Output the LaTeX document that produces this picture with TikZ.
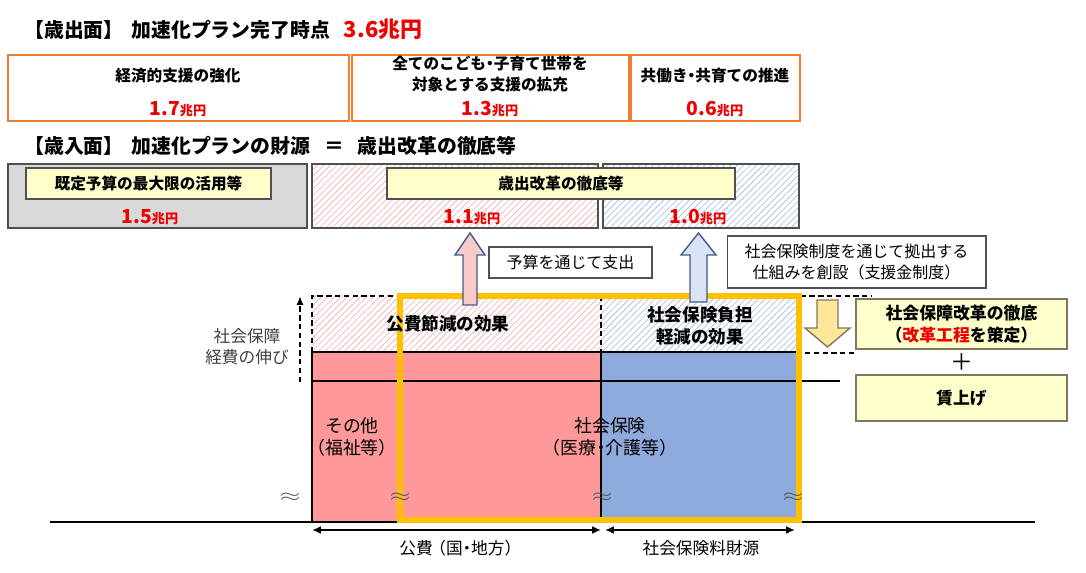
\documentclass[tikz,border=0pt]{standalone}
\usepackage{fontspec}
\setmainfont{Noto Sans CJK JP}
\usepackage{xcolor}
\usetikzlibrary{patterns.meta,arrows.meta}

\definecolor{boxorange}{RGB}{237,125,49}
\definecolor{valred}{RGB}{238,0,0}
\definecolor{lgray}{RGB}{217,217,217}
\definecolor{lyellow}{RGB}{255,255,204}
\definecolor{blockpink}{RGB}{255,153,153}
\definecolor{blockblue}{RGB}{143,170,220}
\definecolor{framegold}{RGB}{255,192,0}
\definecolor{hatchpink}{RGB}{245,185,185}
\definecolor{hatchblue}{RGB}{175,198,230}
\definecolor{arrpink}{RGB}{248,203,203}
\definecolor{arrblue}{RGB}{218,227,243}
\definecolor{arredge}{RGB}{68,90,135}
\definecolor{arrgold}{RGB}{255,230,153}
\definecolor{edgegray}{RGB}{80,80,80}
\definecolor{olivegray}{RGB}{125,120,95}

% value in red, unit smaller
\newcommand{\chou}[1]{{\color{valred}\bfseries\fontsize{11}{13}\selectfont #1\fontsize{7.5}{9}\selectfont 兆円}}
% narrow middle dot and brackets
\newcommand{\nakaten}{\kern-0.25em・\kern-0.25em}
\newcommand{\lpar}{\kern-0.4em（}
\newcommand{\rpar}{）\kern-0.4em}

\begin{document}
\begin{tikzpicture}[x=0.02cm, y=-0.02cm,
        title/.style={anchor=west, inner sep=0, font=\bfseries\fontsize{11.3}{13}\selectfont},
        costbox/.style={draw=boxorange, line width=1.1pt, fill=white, minimum height=1.32cm},
        revbox/.style={draw=edgegray, line width=0.8pt, minimum height=1.28cm},
        tagbox/.style={draw=edgegray, line width=0.7pt, fill=lyellow, minimum height=0.62cm,
            font=\bfseries\fontsize{8.9}{11}\selectfont},
        notebox/.style={draw=edgegray, line width=0.6pt, fill=white, align=center,
            font=\fontsize{9.1}{11.5}\selectfont},
        pointbox/.style={draw=olivegray, line width=0.8pt, fill=lyellow, align=center,
            minimum width=4.22cm, font=\bfseries\fontsize{9.6}{12.4}\selectfont},
        lbl/.style={font=\bfseries\fontsize{8.9}{11.5}\selectfont, align=center, inner sep=0},
        blocktext/.style={font=\fontsize{10.2}{12.6}\selectfont, align=center, inner sep=0},
        effect/.style={font=\bfseries\fontsize{10}{12.4}\selectfont, align=center, inner sep=0},
        axistext/.style={font=\fontsize{9.5}{12}\selectfont, inner sep=0},
        wave/.style={inner sep=0, font=\normalsize, xscale=1.5, black!70},
        dashline/.style={dashed, dash pattern=on 3pt off 2pt, line width=0.8pt}]

    \useasboundingbox (0,0) rectangle (1086,573);

    % spending side
    \node[title] (expTitle) at (24,29) {【歳出面】\hspace{0.4em}加速化プラン完了時点\hspace{0.7em}{\color{valred}\fontsize{12.5}{14}\selectfont 3.6兆円}};

    \node[costbox, minimum width=6.82cm] (cost1) at (178.5,88) {};
    \node[costbox, minimum width=5.54cm] (cost2) at (490.5,88) {};
    \node[costbox, minimum width=3.38cm] (cost3) at (715.5,88) {};
    \node[lbl] (cost1txt) at (178,76) {経済的支援の強化};
    \node[lbl] (cost2txt) at (490,74) {全てのこども\nakaten 子育て世帯を\\対象とする支援の拡充};
    \node[lbl] (cost3txt) at (715,76) {共働き\nakaten 共育ての推進};
    \node[inner sep=0] (cost1val) at (178,109) {\chou{1.7}};
    \node[inner sep=0] (cost2val) at (490,109) {\chou{1.3}};
    \node[inner sep=0] (cost3val) at (715,109) {\chou{0.6}};

    % revenue side
    \node[title] (revTitle) at (24,146) {【歳入面】\hspace{0.4em}加速化プランの財源\hspace{0.7em}＝\hspace{0.7em}歳出改革の徹底等};

    \node[revbox, fill=lgray, minimum width=5.98cm] (revA) at (157.5,196) {};
    \node[revbox, minimum width=5.72cm,
        pattern={Lines[angle=45,distance=2.6pt,line width=0.45pt]}, pattern color=hatchpink] (revB) at (455,196) {};
    \node[revbox, minimum width=3.92cm,
        pattern={Lines[angle=45,distance=2.6pt,line width=0.45pt]}, pattern color=hatchblue] (revC) at (701,196) {};
    \node[tagbox, minimum width=4.9cm] (tagA) at (148.5,183.5) {既定予算の最大限の活用等};
    \node[tagbox, minimum width=6.96cm] (tagB) at (561,183.5) {歳出改革の徹底等};
    \node[inner sep=0] (revAval) at (150,217) {\chou{1.5}};
    \node[inner sep=0] (revBval) at (472,217) {\chou{1.1}};
    \node[inner sep=0] (revCval) at (698,217) {\chou{1.0}};

    \node[notebox, minimum width=3.26cm, minimum height=0.62cm] (noteBudget) at (570.5,262.5) {予算を通じて支出};
    \node[notebox, minimum width=5.18cm, minimum height=1.04cm] (noteInsur) at (856.5,262) {社会保険制度を通じて拠出する\\仕組みを創設（支援金制度）};

    % hatched effects
    \fill[pattern={Lines[angle=45,distance=2.6pt,line width=0.45pt]}, pattern color=hatchpink] (312,296) rectangle (601,352);
    \fill[pattern={Lines[angle=45,distance=2.6pt,line width=0.45pt]}, pattern color=hatchblue] (601,296) rectangle (799,352);

    % blocks
    \fill[blockpink] (312,352) rectangle (601,522);
    \fill[blockblue] (601,352) rectangle (799,522);

    \draw[dashline] (312,352) -- (312,296) -- (872,296);
    \draw[dashline] (601,296) -- (601,352);
    \draw[dashline] (805,353) -- (855,353);
    \draw[line width=1pt] (312,352) -- (799,352);
    \draw[line width=0.9pt] (312,381) -- (840,381);
    \draw[line width=1pt] (312,352) -- (312,522);
    \draw[line width=1pt] (601,352) -- (601,522);
    \draw[line width=1.7pt] (50,522) -- (1035,522);

    % growth arrow
    \coordinate (growLow) at (300,382);
    \coordinate (growTop) at (300,296);
    \draw[dashline, line width=1pt, -{Latex[length=5pt,width=4pt]}] (growLow) -- (growTop);
    \node[axistext, align=center, text=black!75] (growTxt) at (247,347) {社会保障\\経費の伸び};

    % frame
    \draw[framegold, line width=2.9pt] (400,296) rectangle (799,520);

    \node[effect] (cutPublic) at (448,324) {公費節減の効果};
    \node[effect] (cutInsur) at (700,326) {社会保険負担\\軽減の効果};
    \node[blocktext] (otherTxt) at (352,437) {その他\\\lpar 福祉等\rpar};
    \node[blocktext] (insurTxt) at (610,437) {社会保険\\\lpar 医療\nakaten 介護等\rpar};

    \node[wave] (wave1) at (290,497) {$\approx$};
    \node[wave] (wave2) at (400,497) {$\approx$};
    \node[wave] (wave3) at (602,497) {$\approx$};
    \node[wave] (wave4) at (793,497) {$\approx$};

    % spans below
    \coordinate (pubL) at (312,530);
    \coordinate (pubR) at (601,530);
    \coordinate (insL) at (605,530);
    \coordinate (insR) at (795,530);
    \draw[line width=1pt, {Latex[length=5pt,width=4.5pt]}-{Latex[length=5pt,width=4.5pt]}] (pubL) -- (pubR);
    \draw[line width=1pt, {Latex[length=5pt,width=4.5pt]}-{Latex[length=5pt,width=4.5pt]}] (insL) -- (insR);
    \node[axistext] (pubTxt) at (457,548) {公費\kern-0.2em（国\nakaten 地方\rpar};
    \node[axistext] (insTxt) at (701,548) {社会保険料財源};

    % block arrows
    \draw[arredge, fill=arrpink, line width=0.8pt]
        (463,305) -- (463,255) -- (455,255) -- (470,233) -- (485,255) -- (477,255) -- (477,305) -- cycle;
    \draw[arredge, fill=arrblue, line width=0.8pt]
        (690,302) -- (690,255) -- (681,255) -- (698.5,233) -- (716,255) -- (707,255) -- (707,302) -- cycle;
    \draw[olivegray, fill=arrgold, line width=0.8pt]
        (817,300) -- (817,328) -- (805,328) -- (827.5,347) -- (850,328) -- (838,328) -- (838,300) -- cycle;

    % reform side
    \node[pointbox, minimum height=0.96cm] (reform) at (961.5,324) {社会保障改革の徹底\\（{\color{valred}改革工程}を策定）};
    \node[inner sep=0, font=\fontsize{13}{14}\selectfont] (plus) at (962,362) {＋};
    \node[pointbox, minimum height=0.92cm] (wage) at (961.5,398) {賃上げ};
\end{tikzpicture}
\end{document}
